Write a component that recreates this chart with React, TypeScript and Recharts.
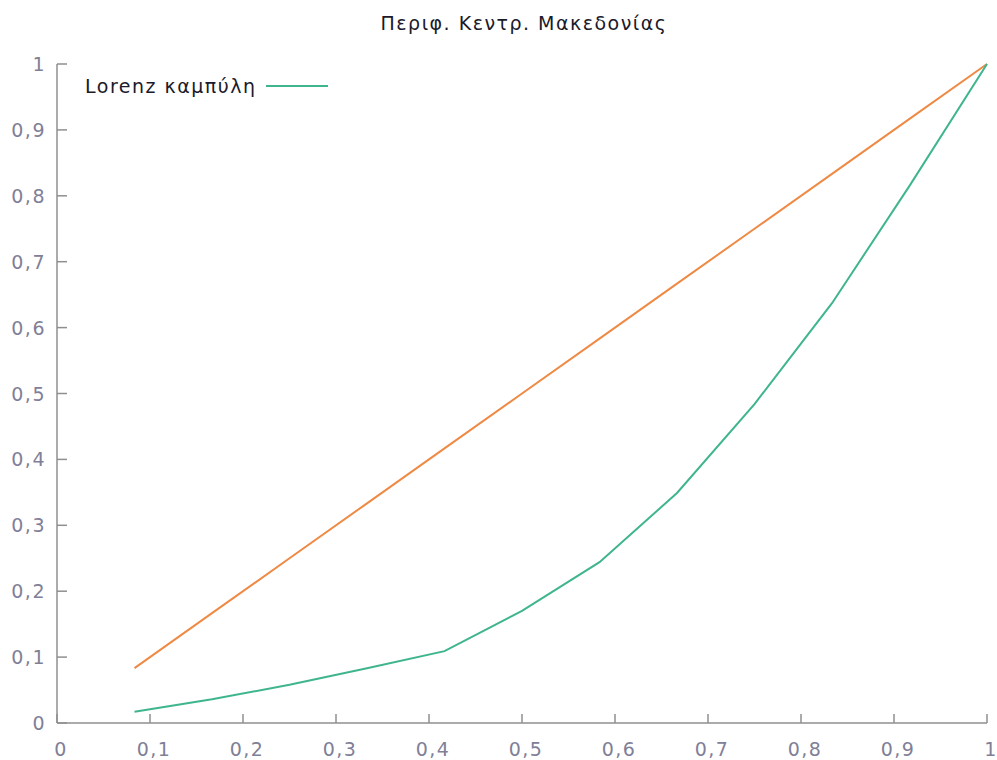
import { Line, LineChart, XAxis, YAxis } from 'recharts'

// population share (k/12) vs cumulative income share
const shares = [1 / 12, 2 / 12, 3 / 12, 4 / 12, 5 / 12, 6 / 12, 7 / 12, 8 / 12, 9 / 12, 10 / 12, 11 / 12, 1]
const lorenz = [0.017, 0.036, 0.058, 0.083, 0.109, 0.17, 0.244, 0.349, 0.484, 0.637, 0.815, 1]
const equality = shares

const xTicks = [0, 0.1, 0.2, 0.3, 0.4, 0.5, 0.6, 0.7, 0.8, 0.9, 1]
const yTicks = [0, 0.1, 0.2, 0.3, 0.4, 0.5, 0.6, 0.7, 0.8, 0.9, 1]

const title = 'Περιφ. Κεντρ. Μακεδονίας'
const lorenzLabel = 'Lorenz καμπύλη'

const data = shares.map((x, i) => ({ x, lorenz: lorenz[i], equality: equality[i] }))

const FONT = '"DejaVu Sans", Verdana, sans-serif'
const SIZE = 19
const SPACING = 1.5
const AXIS = '#8f8f8f'
const LABEL = '#7f8097'
const fmt = (v: number) => String(Math.round(v * 10) / 10).replace('.', ',')

function XTick({ x, y, payload }: any) {
  return (
    <g>
      <line x1={x} x2={x} y1={y} y2={y - 9} stroke={AXIS} strokeWidth={1.5} />
      <text
        x={x + 4}
        y={y + 33}
        textAnchor="middle"
        fill={LABEL}
        fontSize={SIZE}
        fontFamily={FONT}
        letterSpacing={SPACING}
      >
        {fmt(payload.value)}
      </text>
    </g>
  )
}

function YTick({ x, y, payload }: any) {
  return (
    <g>
      <line x1={x} x2={x + 10} y1={y} y2={y} stroke={AXIS} strokeWidth={1.5} />
      <text
        x={x - 11}
        y={y + 7}
        textAnchor="end"
        fill={LABEL}
        fontSize={SIZE}
        fontFamily={FONT}
        letterSpacing={SPACING}
      >
        {fmt(payload.value)}
      </text>
    </g>
  )
}

export default function App() {
  return (
    <div style={{ position: 'absolute', left: 0, top: 0, width: 997, height: 760, background: '#fff' }}>
      <div
        style={{
          position: 'absolute',
          top: 12,
          left: 59,
          width: 930,
          textAlign: 'center',
          fontFamily: FONT,
          fontSize: SIZE,
          letterSpacing: SPACING,
          color: '#1a1a2a',
        }}
      >
        {title}
      </div>
      <div
        style={{
          position: 'absolute',
          top: 75,
          left: 85,
          display: 'flex',
          alignItems: 'center',
          fontFamily: FONT,
          fontSize: SIZE,
          letterSpacing: SPACING,
          color: '#1a1a2a',
          zIndex: 1,
        }}
      >
        <span>{lorenzLabel}</span>
        <span style={{ display: 'inline-block', width: 62, height: 0, borderTop: '2px solid #3fb58e', marginLeft: 9 }} />
      </div>
      <LineChart width={997} height={760} data={data} margin={{ top: 64, right: 10, bottom: 0, left: 0 }}>
        <XAxis
          dataKey="x"
          type="number"
          domain={[0, 1]}
          ticks={xTicks}
          height={37}
          stroke={AXIS}
          strokeWidth={1.5}
          tickLine={false}
          tickSize={0}
          tickMargin={0}
          tick={<XTick />}
          interval={0}
        />
        <YAxis
          type="number"
          domain={[0, 1]}
          ticks={yTicks}
          width={57}
          stroke={AXIS}
          strokeWidth={1.5}
          tickLine={false}
          tickSize={0}
          tickMargin={0}
          tick={<YTick />}
          interval={0}
        />
        <Line dataKey="equality" stroke="#ef8a45" strokeWidth={2} dot={false} isAnimationActive={false} />
        <Line dataKey="lorenz" stroke="#3fb58e" strokeWidth={2} dot={false} isAnimationActive={false} />
      </LineChart>
    </div>
  )
}
